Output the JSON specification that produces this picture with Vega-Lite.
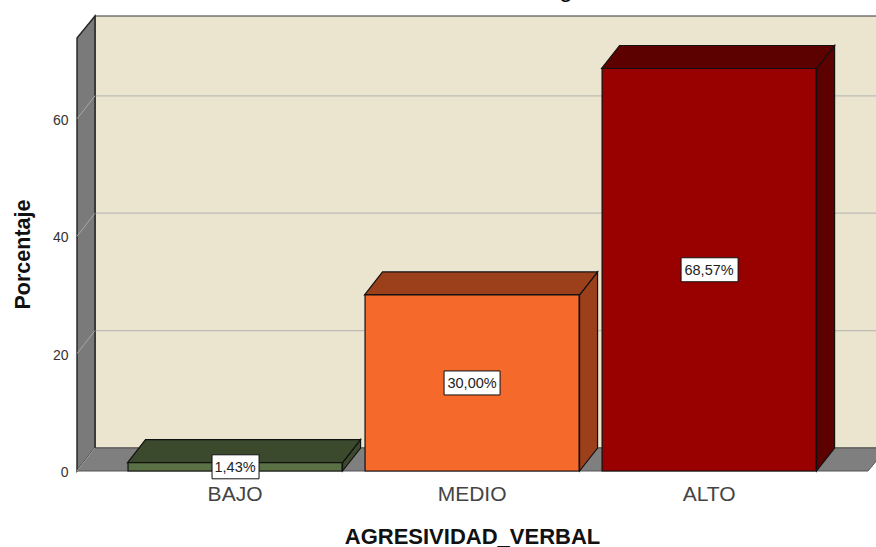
{"$schema":"https://vega.github.io/schema/vega-lite/v6.json","width":799,"height":471,"autosize":{"type":"none"},"padding":{"left":77,"top":0,"right":0,"bottom":76},"background":"white","config":{"view":{"stroke":null},"font":"Liberation Sans"},"data":{"values":[{"categoria":"BAJO","porcentaje":1.43,"centro":0.715,"etiqueta":"1,43%"},{"categoria":"MEDIO","porcentaje":30.0,"centro":15.0,"etiqueta":"30,00%"},{"categoria":"ALTO","porcentaje":68.57,"centro":34.285,"etiqueta":"68,57%"}]},"layer":[{"data":{"values":[{"a":1}]},"mark":{"type":"point","shape":"M18,-23 L812,-23 L812,-455 L18,-455 Z","size":4,"filled":true,"opacity":1,"fill":"#EBE5CF","stroke":"#333333","strokeWidth":1.2},"encoding":{"x":{"value":0},"y":{"datum":0,"type":"quantitative","scale":{"domain":[0,80.24],"nice":false,"zero":false},"axis":{"title":"Porcentaje","values":[0,20,40,60],"grid":false,"ticks":false,"domain":false,"labelFontSize":14,"labelColor":"#333333","labelPadding":9,"labelOffset":1.5,"format":"d","titleFontSize":21.5,"titleFontWeight":"bold","titleColor":"#111111","titleX":-48,"titleY":254,"titleAngle":-90,"titleAlign":"center","titleBaseline":"alphabetic"}}}},{"data":{"values":[{"t":20},{"t":40},{"t":60}]},"mark":{"type":"rule","color":"#BDBDB5","strokeWidth":1.2,"yOffset":-23},"encoding":{"x":{"value":18},"x2":{"value":799},"y":{"field":"t","type":"quantitative"}}},{"data":{"values":[{"a":1}]},"mark":{"type":"point","shape":"M0,0 L18,-23 L18,-455 L0,-433 Z","size":4,"filled":true,"opacity":1,"fill":"#7A7A7A","stroke":"#222222","strokeWidth":1.4},"encoding":{"x":{"value":0},"y":{"datum":0,"type":"quantitative"}}},{"data":{"values":[{"a":1}]},"mark":{"type":"point","shape":"M0,0 L18,-23 L810,-23 L791,0 Z","size":4,"filled":true,"opacity":1,"fill":"#7F7F7F","stroke":"#555555","strokeWidth":1},"encoding":{"x":{"value":0},"y":{"datum":0,"type":"quantitative"}}},{"data":{"values":[{"t":0},{"t":20},{"t":40},{"t":60}]},"mark":{"type":"rule","color":"#A8A8A8","strokeWidth":1,"y2Offset":-23},"encoding":{"x":{"value":0},"x2":{"value":18},"y":{"field":"t","type":"quantitative"},"y2":{"field":"t"}}},{"mark":{"type":"point","size":4,"filled":true,"opacity":1,"stroke":"#111111","strokeWidth":1.2},"encoding":{"x":{"field":"categoria","type":"nominal"},"y":{"datum":0,"type":"quantitative"},"shape":{"field":"categoria","type":"nominal","legend":null,"scale":{"domain":["BAJO","MEDIO","ALTO"],"range":["M107.5,0 L125.5,-23 L125.5,-31.4 L107.5,-8.4 Z","M107.5,0 L125.5,-23 L125.5,-199 L107.5,-176 Z","M107.5,0 L125.5,-23 L125.5,-425.5 L107.5,-402.5 Z"]}},"fill":{"field":"categoria","type":"nominal","legend":null,"scale":{"domain":["BAJO","MEDIO","ALTO"],"range":["#3B4A2C","#9B401A","#5C0000"]}}}},{"mark":{"type":"point","shape":"M-107.5,0 L107.5,0 L125.5,-23 L-89.5,-23 Z","size":4,"filled":true,"opacity":1,"stroke":"#111111","strokeWidth":1.2},"encoding":{"x":{"field":"categoria","type":"nominal"},"y":{"field":"porcentaje","type":"quantitative"},"fill":{"field":"categoria","type":"nominal","legend":null,"scale":{"domain":["BAJO","MEDIO","ALTO"],"range":["#3B4A2C","#9B401A","#5C0000"]}}}},{"mark":{"type":"bar","stroke":"#111111","strokeWidth":1.2},"encoding":{"x":{"field":"categoria","type":"nominal","sort":["BAJO","MEDIO","ALTO"],"scale":{"type":"band","domain":["BAJO","MEDIO","ALTO"],"paddingInner":0.097,"paddingOuter":0.234,"align":0.46},"axis":{"title":"AGRESIVIDAD_VERBAL","labelAngle":0,"labelAlign":"center","labelBaseline":"alphabetic","ticks":false,"domain":false,"labelFontSize":21,"labelColor":"#444444","labelPadding":29,"titleFontSize":22,"titleFontWeight":"bold","titleColor":"#111111","titleX":395,"titleY":72,"titleBaseline":"alphabetic"}},"y":{"field":"porcentaje","type":"quantitative"},"fill":{"field":"categoria","type":"nominal","legend":null,"scale":{"domain":["BAJO","MEDIO","ALTO"],"range":["#5A7045","#F5692B","#990000"]}}}},{"mark":{"type":"point","size":4,"filled":true,"opacity":1,"fill":"white","stroke":"#111111","strokeWidth":1},"encoding":{"x":{"field":"categoria","type":"nominal"},"y":{"field":"centro","type":"quantitative"},"shape":{"field":"categoria","type":"nominal","legend":null,"scale":{"domain":["BAJO","MEDIO","ALTO"],"range":["M-23,-12 H24 V12 H-23 Z","M-28,-12 H28 V12 H-28 Z","M-28,-12 H29 V12 H-28 Z"]}}}},{"mark":{"type":"text","fontSize":14.5,"color":"#222222","align":"center","baseline":"middle","dy":1},"encoding":{"x":{"field":"categoria","type":"nominal"},"y":{"field":"centro","type":"quantitative"},"text":{"field":"etiqueta"}}},{"data":{"values":[{"a":"g"}]},"mark":{"type":"text","fontSize":24,"color":"#000000","align":"center","baseline":"alphabetic"},"encoding":{"x":{"value":489},"y":{"value":-3},"text":{"field":"a"}}}],"resolve":{"scale":{"fill":"independent","shape":"independent"}}}
